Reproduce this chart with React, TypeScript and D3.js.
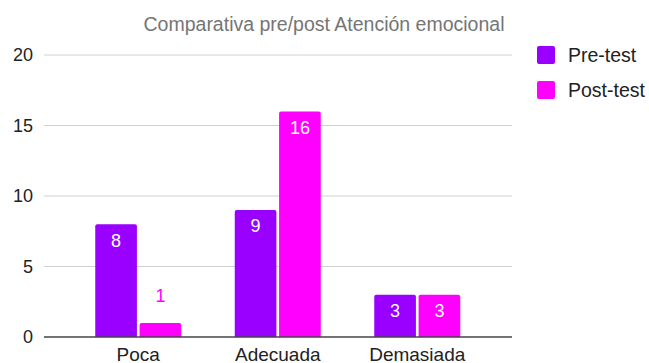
import React from "react";
import * as d3 from "d3";

const categories = ["Poca", "Adecuada", "Demasiada"];
const seriesNames = ["Pre-test", "Post-test"];
const preValues = [8, 9, 3];
const postValues = [1, 16, 3];
const yTicks = [0, 5, 10, 15, 20];
const colors = ["#9900ff", "#ff00ff"];
const title = "Comparativa pre/post Atención emocional";

const W = 649;
const H = 363;
const FONT = "Arial, 'Liberation Sans', sans-serif";

export default function App() {
  const y = d3.scaleLinear().domain([0, 20]).range([337, 55]);
  const x0 = d3.scaleBand<string>().domain(categories).range([68.5, 487]).paddingInner(0).paddingOuter(0);
  const groupW = 86;
  const x1 = d3.scaleBand<string>().domain(seriesNames).range([0, groupW]).paddingInner(0.06);
  const series = [preValues, postValues];
  const gridX0 = 44;
  const gridX1 = 512;

  return (
    <svg width={W} height={H} style={{ position: "absolute", left: 0, top: 0, background: "#fff" }} fontFamily={FONT}>
      <text x={324} y={31} textAnchor="middle" fontSize={19.5} fill="#757575">{title}</text>
      {yTicks.map((t) => (
        <g key={t}>
          {t !== 0 && (
            <line x1={gridX0} x2={gridX1} y1={y(t)} y2={y(t)} stroke="#d0d0d0" strokeWidth={1} />
          )}
          <text x={33} y={y(t)} dy="0.35em" textAnchor="end" fontSize={18} fill="#222">{t}</text>
        </g>
      ))}
      {categories.map((c, ci) => {
        const gx = (x0(c) as number) + x0.bandwidth() / 2 - groupW / 2;
        return (
          <g key={c}>
            {series.map((vals, si) => {
              const v = vals[ci];
              const bx = gx + (x1(seriesNames[si]) as number);
              const bw = x1.bandwidth();
              const top = y(v);
              const h = y(0) - top;
              const inside = h > 30;
              return (
                <g key={si}>
                  <path
                    d={`M${bx},${y(0)}V${top + 2}Q${bx},${top} ${bx + 2},${top}H${bx + bw - 2}Q${bx + bw},${top} ${bx + bw},${top + 2}V${y(0)}Z`}
                    fill={colors[si]}
                  />
                  <text
                    x={bx + bw / 2}
                    y={inside ? top + 16 : top - 27}
                    dy="0.35em"
                    textAnchor="middle"
                    fontSize={18}
                    fill={inside ? "#ffffff" : colors[si]}
                  >
                    {v}
                  </text>
                </g>
              );
            })}
            <text x={(x0(c) as number) + x0.bandwidth() / 2} y={361} textAnchor="middle" fontSize={19} fill="#222">{c}</text>
          </g>
        );
      })}
      <line x1={gridX0} x2={gridX1} y1={y(0)} y2={y(0)} stroke="#444" strokeWidth={1.3} />
      {seriesNames.map((s, i) => (
        <g key={s} transform={`translate(537,${46 + i * 35})`}>
          <rect x={0} y={0} width={18} height={18} rx={2} fill={colors[i]} />
          <text x={31} y={16} fontSize={19.5} fill="#222">{s}</text>
        </g>
      ))}
    </svg>
  );
}
